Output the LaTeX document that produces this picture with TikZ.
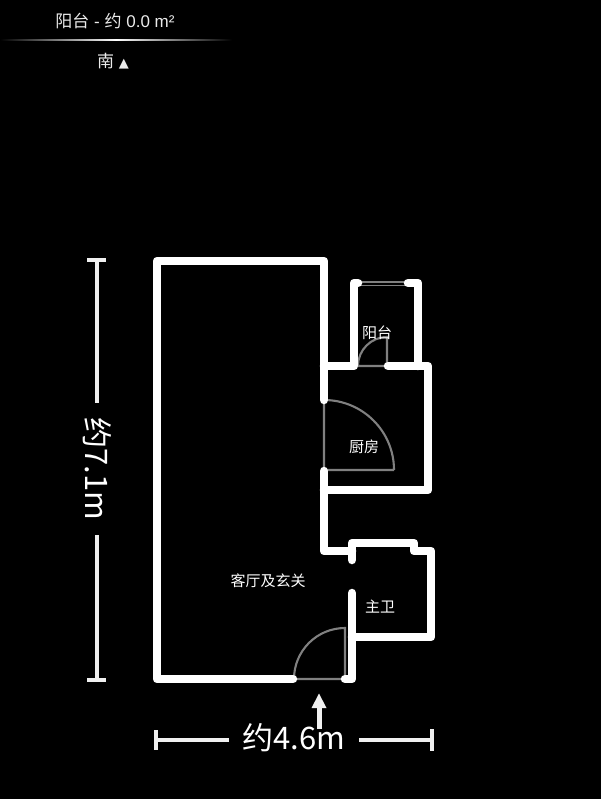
\documentclass[tikz,border=0pt]{standalone}
\usepackage{fontspec}
\setmainfont{Liberation Sans}
\newfontfamily\cjk{Noto Sans CJK SC}
\newfontfamily\sym{DejaVu Sans}
\begin{document}
\begin{tikzpicture}[x=1pt,y=-1pt,
  wall/.style={draw=white,line width=8.5pt,line cap=round,line join=round},
  doorline/.style={draw=doorgray,line width=2.1pt},
  windowline/.style={draw=doorgray,line width=1.8pt},
  dimline/.style={draw=dimwhite,line width=4.1pt},
  room/.style={text=white,font=\cjk\fontsize{15}{16}\selectfont,inner sep=0pt},
  dimtext/.style={text=white,font=\cjk\fontsize{31}{34}\selectfont,inner sep=0pt},
  toptext/.style={text=topwhite,font=\fontsize{17}{20}\selectfont,inner sep=0pt}]
\definecolor{doorgray}{RGB}{128,128,128}
\definecolor{dimwhite}{RGB}{240,240,240}
\definecolor{topwhite}{RGB}{235,235,235}
\fill[black] (0,0) rectangle (601,799);
\useasboundingbox (0,0) rectangle (601,799);
% header
\node[toptext] (title) at (115,21) {{\cjk 阳台} - {\cjk 约} 0.0 m²};
\shade[left color=black,right color=black,middle color=white] (0,39.7) rectangle (232,40.9);
\node[toptext] (south) at (113,61) {{\cjk 南} {\sym\fontsize{13}{14}\selectfont ▲}};
% door swings and window
\draw[doorline] (294,679) -- (345,679) -- (345,628) arc[start angle=-90,end angle=-180,radius=51];
\draw[doorline] (394,470) -- (324,470) -- (324,400) arc[start angle=-90,end angle=0,radius=70];
\draw[doorline] (358,366) -- (387,366) -- (387,337) arc[start angle=-90,end angle=-180,radius=29];
\draw[windowline] (354,282) -- (418,282);
\draw[windowline] (354,285.5) -- (418,285.5);
% walls
\draw[wall] (324,400) -- (324,261) -- (157,261) -- (157,679) -- (293,679);
\draw[wall] (324,471) -- (324,551) -- (352,551);
\draw[wall] (324,490) -- (428,490) -- (428,366) -- (388,366);
\draw[wall] (324,366) -- (354,366) -- (354,283) -- (358,283);
\draw[wall] (408,283) -- (418,283) -- (418,366);
\draw[wall] (352,560) -- (352,543) -- (414,543) -- (414,551) -- (431,551) -- (431,637) -- (352,637);
\draw[wall] (352,593) -- (352,679) -- (345,679);
% room labels
\node[room] (balcony) at (377,333) {阳台};
\node[room] (kitchen) at (364,447) {厨房};
\node[room] (bath) at (380,607) {主卫};
\node[room] (living) at (268,581) {客厅及玄关};
% entry arrow
\draw[draw=dimwhite,line width=5pt] (319,729) -- (319,706);
\fill[dimwhite] (319,693.5) -- (326.5,708) -- (311.5,708) -- cycle;
% vertical dimension
\draw[dimline] (87,260) -- (106,260);
\draw[dimline] (87,680) -- (106,680);
\draw[dimline] (97,260) -- (97,403);
\draw[dimline] (97,535) -- (97,680);
\node[dimtext,rotate=-90] (dimv) at (97,469) {约7.1m};
% horizontal dimension
\draw[dimline] (156,730) -- (156,750);
\draw[dimline] (432,729) -- (432,751);
\draw[dimline] (156,740) -- (229,740);
\draw[dimline] (359,740) -- (432,740);
\node[dimtext] (dimh) at (294,738) {约4.6m};
\end{tikzpicture}
\end{document}
